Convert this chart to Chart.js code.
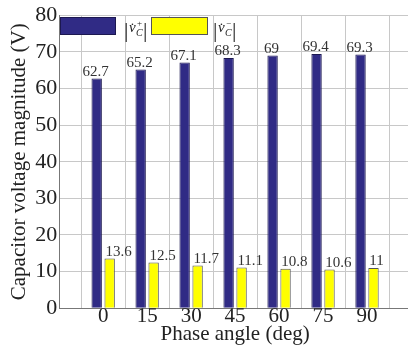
<!DOCTYPE html>
<html>
<head>
<meta charset="utf-8">
<script src="https://cdn.jsdelivr.net/npm/chart.js@4.4.1/dist/chart.umd.min.js"></script>
<style>
  html, body { margin: 0; padding: 0; background: #fff; overflow: hidden; }
  #myChart { display: block; }
</style>
</head>
<body>
<canvas id="myChart" width="411" height="348"></canvas>
<script>
// phase angles (deg) and capacitor voltage magnitudes (V)
var angles = [0, 15, 30, 45, 60, 75, 90];
var vPlus = [62.7, 65.2, 67.1, 68.3, 69, 69.4, 69.3];
var vMinus = [13.6, 12.5, 11.7, 11.1, 10.8, 10.6, 11];
var xEdges = [-15, 105];

var serif = "'Liberation Serif', 'Times New Roman', serif";

function toPoints(vals) {
  return angles.map(function (a, i) { return { x: a, y: vals[i] }; });
}

// value labels above the bars
var valueLabels = {
  id: "valueLabels",
  afterDatasetsDraw: function (chart) {
    var c = chart.ctx;
    c.save();
    c.font = "15px " + serif;
    c.fillStyle = "#333";
    c.textBaseline = "bottom";
    chart.data.datasets.forEach(function (ds, di) {
      var meta = chart.getDatasetMeta(di);
      meta.data.forEach(function (bar, i) {
        var v = ds.data[i].y;
        if (di == 0) {
          c.textAlign = "center";
          c.fillText(String(v), bar.x - 1, bar.y + 1);
        } else {
          c.textAlign = "left";
          c.fillText(String(v), bar.x - bar.width / 2 + 1, bar.y + 1);
        }
      });
    });
    c.restore();
  }
};

// legend drawn inside the plot, top-left
function drawMagLabel(c, x, y, sign) {
  c.fillStyle = "#222";
  c.textBaseline = "alphabetic";
  c.textAlign = "left";
  c.font = "22px " + serif;
  c.fillText("|", x, y + 8);
  c.font = "italic 15px " + serif;
  c.fillText("v\u0307", x + 5, y + 3);
  c.font = "9px " + serif;
  c.fillText(sign, x + 13, y - 3);
  c.font = "italic 10px " + serif;
  c.fillText("C", x + 12, y + 7);
  c.font = "22px " + serif;
  c.fillText("|", x + 19, y + 8);
}

var insideLegend = {
  id: "insideLegend",
  afterDraw: function (chart) {
    var c = chart.ctx;
    var a = chart.chartArea;
    var x = Math.round(a.left) + 1, y = Math.round(a.top) + 2;
    c.save();
    c.lineWidth = 1;
    c.fillStyle = "#302b85";
    c.strokeStyle = "#1c1850";
    c.fillRect(x, y, 56, 18);
    c.strokeRect(x + 0.5, y + 0.5, 55, 17);
    drawMagLabel(c, x + 64, y + 12, "+");
    c.fillStyle = "#ffff00";
    c.strokeStyle = "#555";
    c.fillRect(x + 91, y, 57, 18);
    c.strokeRect(x + 91.5, y + 0.5, 56, 17);
    drawMagLabel(c, x + 153, y + 12, "\u2212");
    c.restore();
  }
};

var data = {
  datasets: [
    {
      label: "|vC+|",
      data: toPoints(vPlus),
      backgroundColor: "#302b85",
      borderColor: "#1c1850",
      borderWidth: 1,
      categoryPercentage: 0.59,
      barPercentage: 0.8
    },
    {
      label: "|vC-|",
      data: toPoints(vMinus),
      backgroundColor: "#ffff00",
      borderColor: "#555",
      borderWidth: 1,
      categoryPercentage: 0.59,
      barPercentage: 0.8
    }
  ]
};

var options = {
  responsive: false,
  animation: false,
  layout: { padding: { top: 12, right: 0, bottom: 0, left: 0 } },
  plugins: {
    legend: { display: false },
    tooltip: { enabled: false }
  },
  scales: {
    x: {
      type: "linear",
      min: xEdges[0],
      max: xEdges[1],
      offset: false,
      grid: { color: "#c8c8c8", drawTicks: false },
      border: { color: "#777" },
      ticks: {
        stepSize: 15,
        padding: 0,
        maxRotation: 0,
        autoSkip: false,
        color: "#222",
        font: { family: serif, size: 21, lineHeight: 0.75 },
        callback: function (v) { return angles.indexOf(v) >= 0 ? String(v) : ""; }
      },
      title: {
        display: true,
        text: "Phase angle (deg)",
        color: "#222",
        font: { family: serif, size: 21, lineHeight: 1 },
        padding: { top: 0, bottom: 3 }
      }
    },
    y: {
      min: 0,
      max: 80,
      grid: { color: "#c8c8c8", drawTicks: false },
      border: { color: "#777" },
      ticks: {
        stepSize: 10,
        padding: 2,
        color: "#222",
        font: { family: serif, size: 22 }
      },
      title: {
        display: true,
        text: "Capacitor voltage magnitude (V)",
        color: "#222",
        font: { family: serif, size: 21 },
        padding: { top: 7, bottom: 1 }
      }
    }
  }
};

var chart = new Chart(document.getElementById("myChart"), {
  type: "bar",
  data: data,
  options: options,
  plugins: [valueLabels, insideLegend]
});
</script>
</body>
</html>
